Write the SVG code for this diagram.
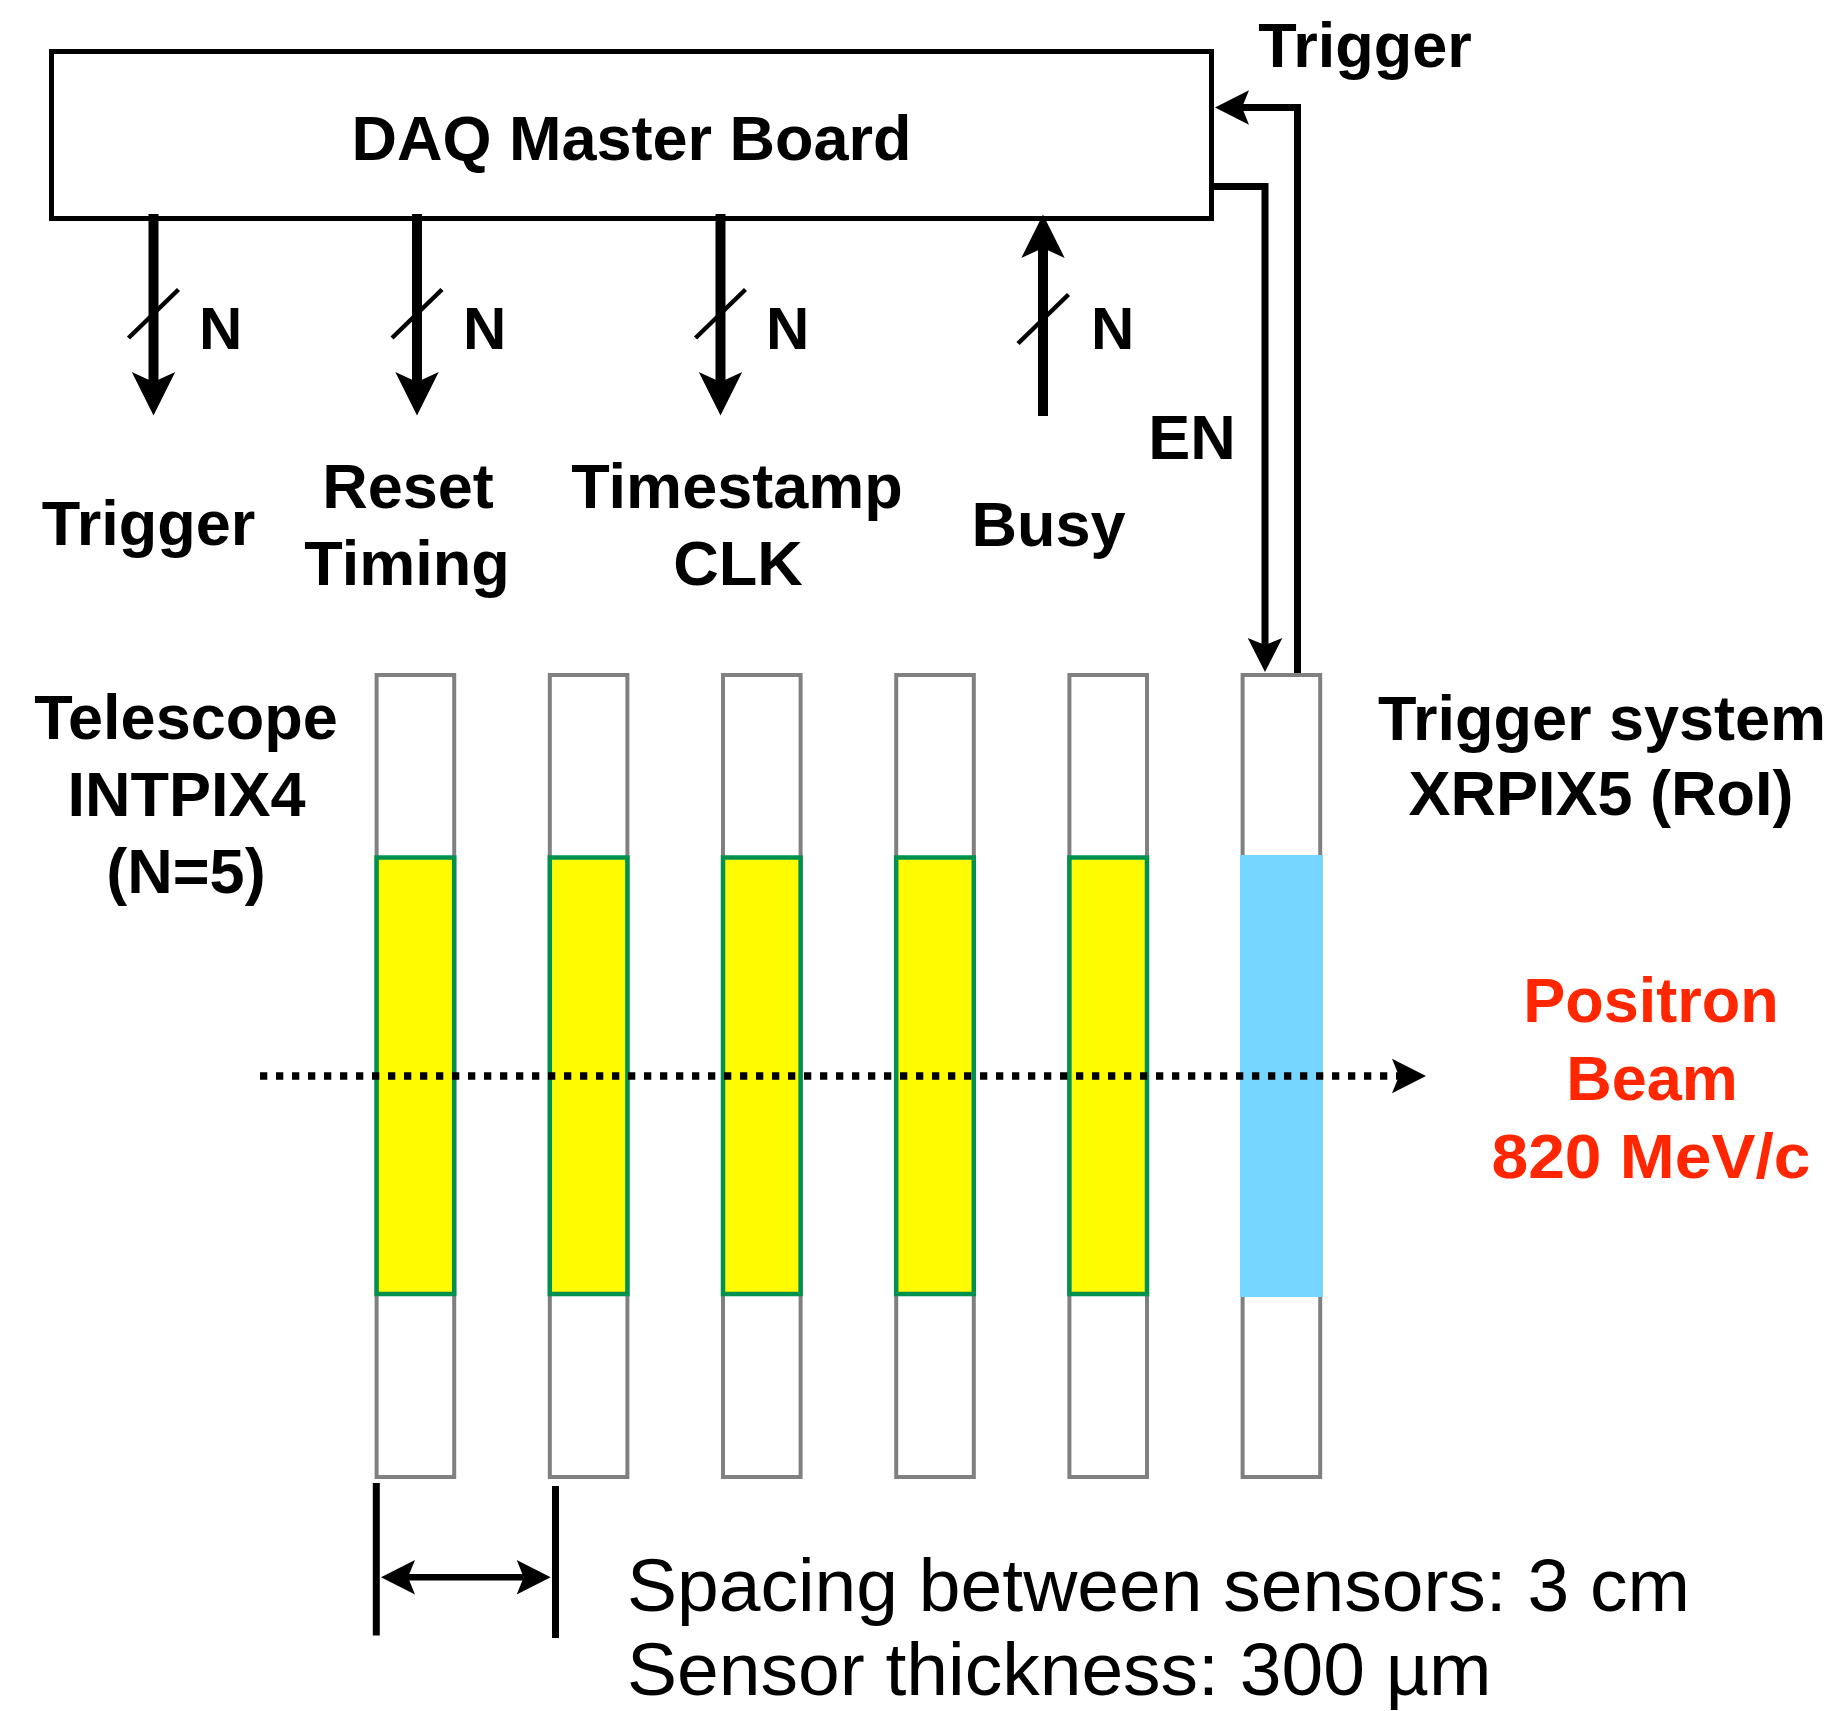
<svg xmlns="http://www.w3.org/2000/svg" width="1839" height="1711" viewBox="0 0 1839 1711">
<style>
  .lbl { font-family: "Liberation Sans", Arial, Helvetica, sans-serif; font-weight: bold; font-size: 63px; fill: #000; text-anchor: middle; }
  .n { font-family: "Liberation Sans", Arial, Helvetica, sans-serif; font-weight: bold; font-size: 60px; fill: #000; }
  .red { fill: #FF2600; }
  .note { font-family: "Liberation Sans", Arial, Helvetica, sans-serif; font-size: 75px; fill: #000; }
  .sensor { fill: #FFFFFF; stroke: #808080; stroke-width: 4; }
  .active { fill: #FFFB00; stroke: #00914F; stroke-width: 4.5; }
  .bus { fill: none; stroke: #000; stroke-width: 10; }
  .wire { fill: none; stroke: #000; stroke-width: 7; }
  .slash { fill: none; stroke: #000; stroke-width: 4.5; }
</style>
<defs>
  <marker id="bigHead" markerUnits="userSpaceOnUse" viewBox="-11 -23 46 46" markerWidth="46" markerHeight="46" refX="0" refY="0" orient="auto">
    <path d="M33.5,0 L-10,-21.7 L0,0 L-10,21.7 Z" fill="#000" stroke="none"/>
  </marker>
  <marker id="head" markerUnits="userSpaceOnUse" viewBox="-8 -18 36 36" markerWidth="36" markerHeight="36" refX="0" refY="0" orient="auto-start-reverse">
    <path d="M27,0 L-7,-17.3 L0,0 L-7,17.3 Z" fill="#000" stroke="none"/>
  </marker>
</defs>
<rect width="1839" height="1711" fill="#FFFFFF"/>

<g id="daq">
  <rect x="51.5" y="51.5" width="1160" height="167" fill="#FFFFFF" stroke="#000" stroke-width="5"/>
  <text class="lbl" x="631.5" y="160" font-size="64">DAQ Master Board</text>
</g>

<g id="sensors">
  <g id="sensor1"><rect class="sensor" x="376.6" y="675" width="77.6" height="802"/><rect class="active" x="376.6" y="857.5" width="77.6" height="436.5"/></g>
  <g id="sensor2"><rect class="sensor" x="549.8" y="675" width="77.6" height="802"/><rect class="active" x="549.8" y="857.5" width="77.6" height="436.5"/></g>
  <g id="sensor3"><rect class="sensor" x="723.0" y="675" width="77.6" height="802"/><rect class="active" x="723.0" y="857.5" width="77.6" height="436.5"/></g>
  <g id="sensor4"><rect class="sensor" x="896.2" y="675" width="77.6" height="802"/><rect class="active" x="896.2" y="857.5" width="77.6" height="436.5"/></g>
  <g id="sensor5"><rect class="sensor" x="1069.4" y="675" width="77.6" height="802"/><rect class="active" x="1069.4" y="857.5" width="77.6" height="436.5"/></g>
  <g id="trigger-sensor"><rect class="sensor" x="1242.6" y="675" width="77.6" height="802"/><rect x="1240" y="855" width="83" height="442" fill="#76D6FF"/></g>
</g>

<g id="connectors">
  <line class="bus" x1="153.5" y1="214" x2="153.5" y2="382" marker-end="url(#bigHead)"/>
  <line class="slash" x1="128.5" y1="338" x2="178.5" y2="289.5"/>
  <line class="bus" x1="417" y1="214" x2="417" y2="382" marker-end="url(#bigHead)"/>
  <line class="slash" x1="392" y1="338" x2="442" y2="289.5"/>
  <line class="bus" x1="720.5" y1="214" x2="720.5" y2="382" marker-end="url(#bigHead)"/>
  <line class="slash" x1="695.5" y1="338" x2="745.5" y2="289.5"/>
  <line class="bus" x1="1043" y1="416" x2="1043" y2="248" marker-end="url(#bigHead)"/>
  <line class="slash" x1="1018" y1="343.5" x2="1068.5" y2="294.5"/>
  <path class="wire" d="M1212,186.5 H1265 V645" marker-end="url(#head)"/>
  <path class="wire" d="M1297.5,673 V107.5 H1242" marker-end="url(#head)"/>
  <line x1="260" y1="1076" x2="1399" y2="1076" stroke="#000" stroke-width="7.5" stroke-dasharray="7.3 8.7" marker-end="url(#head)"/>
  <line class="wire" x1="376.3" y1="1483" x2="376.3" y2="1635.5"/>
  <line class="wire" x1="555.5" y1="1486" x2="555.5" y2="1638"/>
  <line x1="408" y1="1577.3" x2="523.7" y2="1577.3" stroke="#000" stroke-width="6.5" marker-start="url(#head)" marker-end="url(#head)"/>
</g>

<g id="labels">
  <text class="n" x="199" y="349">N</text>
  <text class="n" x="463" y="349">N</text>
  <text class="n" x="766" y="349">N</text>
  <text class="n" x="1091" y="349">N</text>
  <text class="lbl" x="148.5" y="545">Trigger</text>
  <text class="lbl" x="408" y="508">Reset</text>
  <text class="lbl" x="407" y="585">Timing</text>
  <text class="lbl" x="737" y="508">Timestamp</text>
  <text class="lbl" x="738" y="585">CLK</text>
  <text class="lbl" x="1048.5" y="546">Busy</text>
  <text class="lbl" x="1192" y="459">EN</text>
  <text class="lbl" x="1365" y="67">Trigger</text>
  <text class="lbl" x="186" y="739">Telescope</text>
  <text class="lbl" x="186.5" y="816">INTPIX4</text>
  <text class="lbl" x="186" y="893">(N=5)</text>
  <text class="lbl" x="1602" y="740">Trigger system</text>
  <text class="lbl" x="1601" y="815">XRPIX5 (RoI)</text>
  <text class="lbl red" x="1651" y="1022">Positron</text>
  <text class="lbl red" x="1652" y="1100">Beam</text>
  <text class="lbl red" x="1651" y="1178" textLength="319" lengthAdjust="spacingAndGlyphs">820 MeV/c</text>
  <text class="note" x="627" y="1611">Spacing between sensors: 3 cm</text>
  <text class="note" x="627" y="1695">Sensor thickness: 300 µm</text>
</g>
</svg>
